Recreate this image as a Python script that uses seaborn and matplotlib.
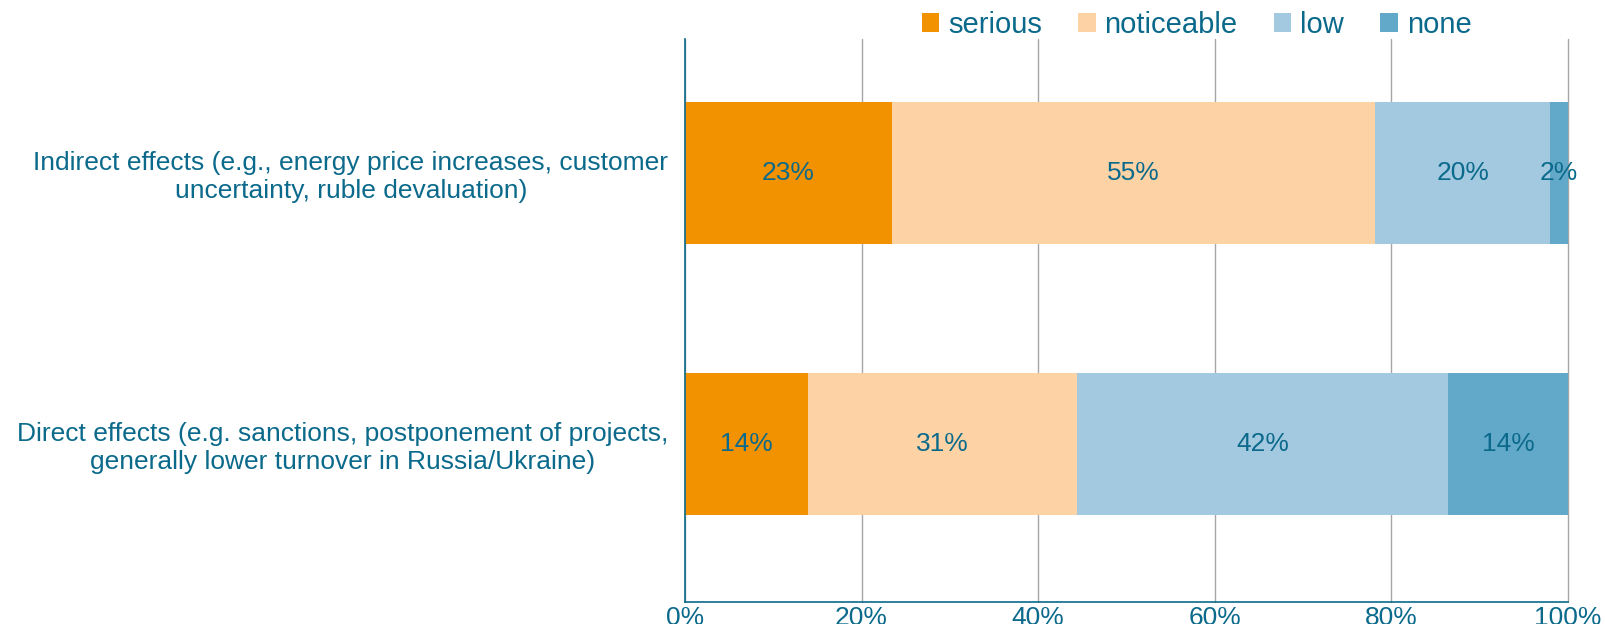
import matplotlib
matplotlib.use("Agg")
import matplotlib.pyplot as plt
from matplotlib.patches import Patch
import numpy as np
import pandas as pd
import seaborn as sns

categories = [
    "Indirect effects (e.g., energy price increases, customer\nuncertainty, ruble devaluation)",
    "Direct effects (e.g. sanctions, postponement of projects,\ngenerally lower turnover in Russia/Ukraine)",
]
levels = ["serious", "noticeable", "low", "none"]
serious = [23.4, 13.9]
noticeable = [54.8, 30.5]
low = [19.8, 42.0]
none_ = [2.0, 13.6]
labels = [["23%", "55%", "20%", "2%"], ["14%", "31%", "42%", "14%"]]

colors = ["#f39200", "#fdd3a6", "#a2c9e0", "#62a8c8"]
text_col = "#0b6a8b"

sns.set_style("white")
plt.rcParams["font.family"] = ["Liberation Sans", "DejaVu Sans"]

vals = np.array([serious, noticeable, low, none_])  # levels x categories
cum = vals.cumsum(axis=0)

fig = plt.figure(figsize=(16.06, 6.24), dpi=100)
ax = fig.add_axes([0.4265, 0.0353, 0.5498, 0.9022])

# stacked bars: draw cumulative totals from the last level back to the first
for i in range(len(levels) - 1, -1, -1):
    df = pd.DataFrame({"category": categories, "cum": cum[i]})
    sns.barplot(data=df, x="cum", y="category", orient="h", color=colors[i],
                width=0.524, saturation=1, linewidth=0, ax=ax, zorder=2)

for j in range(len(categories)):
    for i in range(len(levels)):
        left = cum[i][j] - vals[i][j]
        ax.text(left + vals[i][j] / 2, j, labels[j][i], ha="center", va="center",
                color=text_col, fontsize=19, zorder=3)

ax.set_xlim(0, 100)
ax.set_ylim(1.583, -0.494)
ax.set_xticks([0, 20, 40, 60, 80, 100])
ax.set_xticklabels(["0%", "20%", "40%", "60%", "80%", "100%"])
ax.xaxis.grid(True, color="#a6a6a6", linewidth=1, zorder=0)
for gl in ax.get_xgridlines():
    gl.set_clip_on(False)
ax.set_axisbelow(True)
ax.set_xlabel("")
ax.set_ylabel("")
ax.tick_params(axis="x", colors=text_col, labelsize=19, length=0, pad=3)
ax.tick_params(axis="y", colors=text_col, labelsize=19, length=0, pad=12)
for lab in ax.get_yticklabels():
    lab.set_multialignment("center")

for s in ["top", "right"]:
    ax.spines[s].set_visible(False)
for s in ["left", "bottom"]:
    ax.spines[s].set_color(text_col)
    ax.spines[s].set_linewidth(1.2)

handles = [Patch(facecolor=c, edgecolor="none") for c in colors]
leg = fig.legend(handles, levels, loc="center", bbox_to_anchor=(0.745, 0.960), ncol=4,
                 frameon=False, fontsize=21, handlelength=0.6, handleheight=0.6,
                 handletextpad=0.3, columnspacing=1.25, labelcolor=text_col)

fig.savefig("out.png", dpi=100)
